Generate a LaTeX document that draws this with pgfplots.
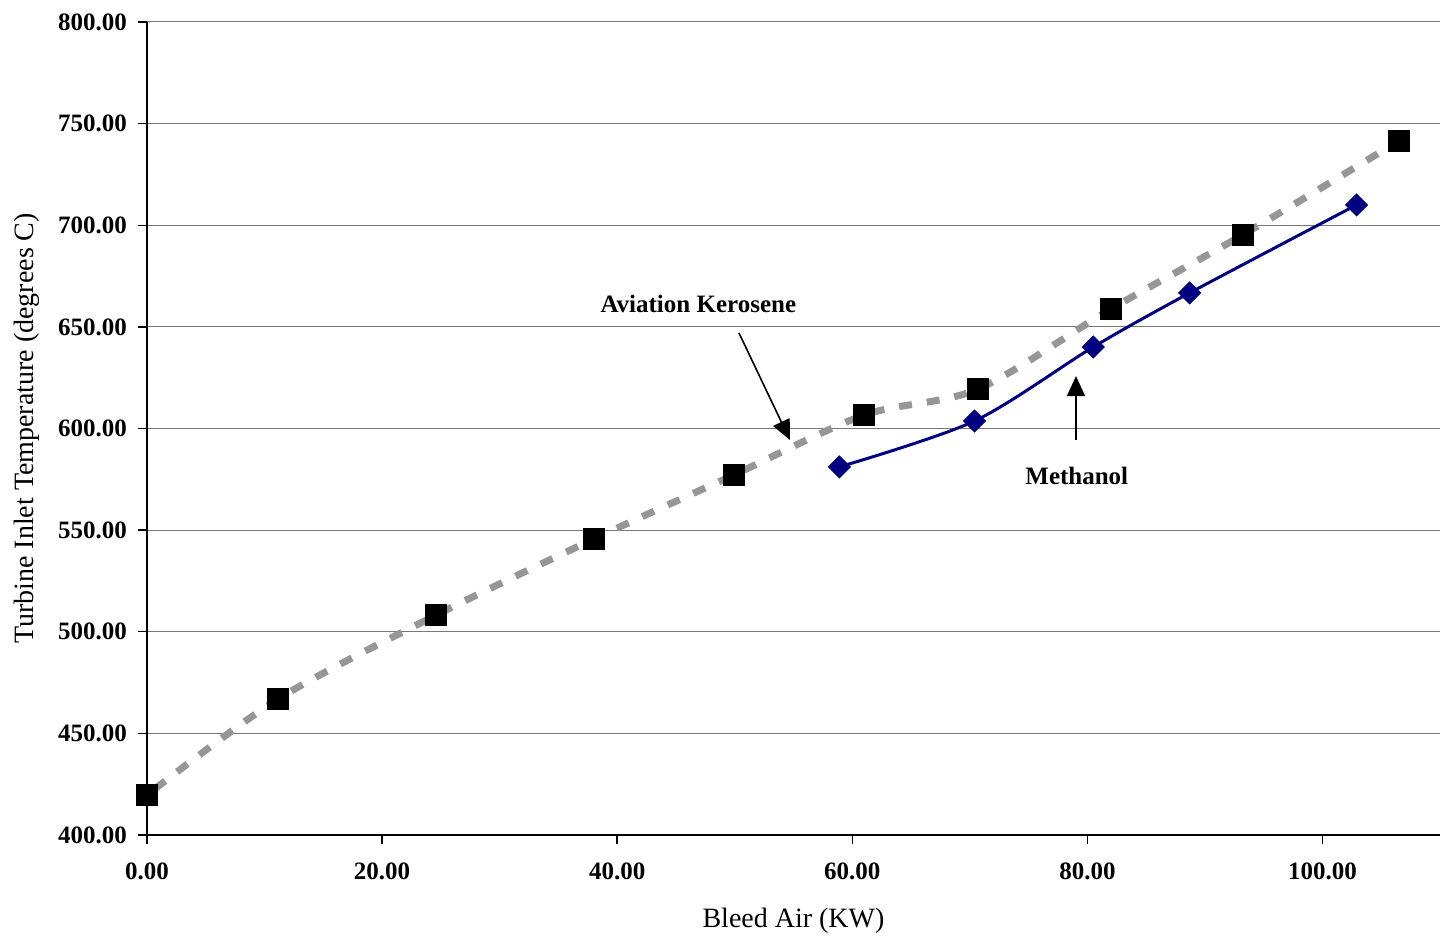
\documentclass[border=0pt]{standalone}
\usepackage{pgfplots}
\pgfplotsset{compat=1.18}
\usepackage{fontspec}
\setmainfont{Liberation Serif}
\usetikzlibrary{arrows.meta}
\definecolor{kero}{RGB}{150,150,150}
\definecolor{meth}{RGB}{0,0,128}
\definecolor{gridgray}{RGB}{120,120,120}
\begin{document}
\begin{tikzpicture}[x=1pt,y=1pt]
\useasboundingbox (-73.5,-52.5) rectangle (648,417.5);
\begin{axis}[
  at={(0,0)}, anchor=south west,
  scale only axis, width=646.5pt, height=406.5pt,
  xmin=0, xmax=110, ymin=400, ymax=800,
  xtick={0,20,...,100}, ytick={400,450,...,800},
  axis x line*=bottom, axis y line*=left,
  axis line style={black, line width=0.9pt, -},
  tick align=outside, major tick length=4.5pt,
  tick style={black, line width=0.7pt},
  ymajorgrids, grid style={gridgray, line width=0.5pt},
  clip=false,
  ticklabel style={font=\bfseries\fontsize{12.5}{15}\selectfont,
    /pgf/number format/fixed, /pgf/number format/fixed zerofill,
    /pgf/number format/precision=2, /pgf/number format/assume math mode=true},
  xticklabel style={yshift=-6pt},
  yticklabel style={xshift=-2pt},
  xlabel={Bleed Air (KW)},
  ylabel={Turbine Inlet Temperature (degrees C)},
  label style={font=\fontsize{14}{16}\selectfont},
  xlabel style={at={([yshift=-43pt]axis description cs:0.5,0)}, anchor=center},
  ylabel style={at={([xshift=-60pt]axis description cs:0,0.5)}, anchor=center},
]
% Aviation kerosene
\addplot[kero, line width=3.5pt, dash pattern=on 6.5pt off 7.5pt, dash phase=-5pt,
  smooth, tension=0.5,
  mark=square*, mark size=5.2pt, mark options={solid, black, fill=black, line width=0.4pt}]
  coordinates {
  (0,419.7) (11.15,466.9) (24.6,508.2) (38.0,545.6) (49.9,577.1)
  (61.0,606.6) (70.7,619.4) (82.0,658.8) (93.2,695.2) (106.5,741.5)
  };
% Methanol
\addplot[meth, line width=1.5pt, smooth, tension=0.5,
  mark=square*, mark size=3.9pt, mark options={rotate=45, fill=meth, line width=0.4pt}]
  coordinates {
  (58.9,581.1) (70.4,603.7) (80.5,640.1) (88.7,666.7) (102.9,710.0)
  };
\node[font=\bfseries\fontsize{12.5}{15}\selectfont] at (axis cs:46.9,661.3) {Aviation Kerosene};
\node[font=\bfseries\fontsize{12.5}{15}\selectfont] at (axis cs:79.1,576.6) {Methanol};
\draw[-{Triangle[length=10pt,width=9pt]}, line width=0.8pt, black]
  (axis cs:50.36,647.0) -- (axis cs:54.7,594.3);
\draw[-{Triangle[length=10pt,width=9pt]}, line width=0.8pt, black]
  (axis cs:79.03,594.3) -- (axis cs:79.03,625.8);
\end{axis}
\end{tikzpicture}
\end{document}
